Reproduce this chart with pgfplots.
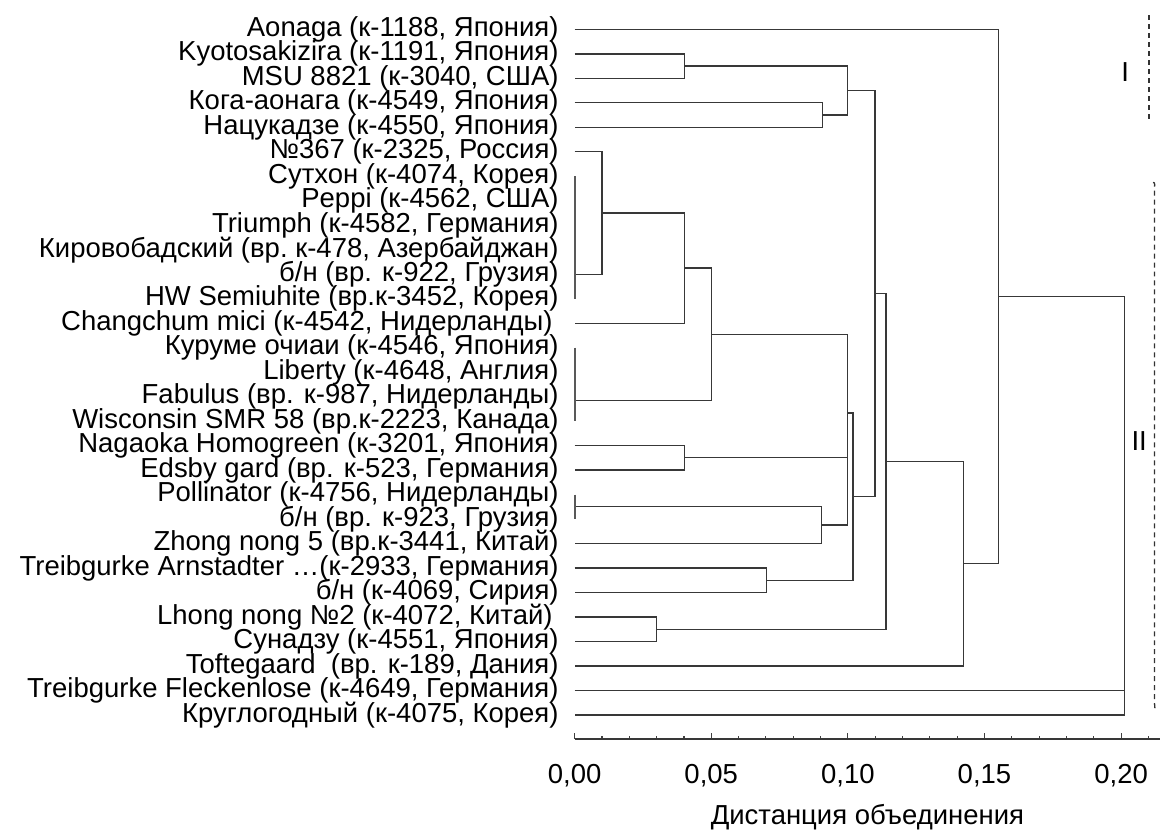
\documentclass[border=0pt]{standalone}
\usepackage{fontspec}
\setmainfont{Liberation Sans}
\usepackage{pgfplots}
\pgfplotsset{compat=1.18}
\newcommand{\lbl}{\fontsize{13.75}{16}\selectfont}
\pgfplotsset{link/.style={black!78, line width=0.65pt, mark=none, forget plot},
             zero/.style={black!65, line width=1pt, mark=none, forget plot}}

\begin{document}
\begin{tikzpicture}
\begin{axis}[
    scale only axis,
    width=293pt, height=369.5pt,
    xmin=0, xmax=0.2143,
    ymin=0.02, ymax=30.184,
    clip=false,
    axis x line*=bottom,
    axis y line*=left,
    x axis line style={black!75, line width=0.8pt},
    y axis line style={opacity=0},
    tick align=inside,
    major tick length=3pt, minor tick length=1.6pt,
    xtick={0,0.05,0.1,0.15,0.2},
    minor xtick={0.01,0.02,0.03,0.04,0.06,0.07,0.08,0.09,0.11,0.12,0.13,0.14,0.16,0.17,0.18,0.19,0.21},
    xtick style={black!75, line width=0.6pt},
    x tick label style={/pgf/number format/.cd, fixed, fixed zerofill, precision=2, use comma, assume math mode=true, /tikz/.cd, font=\lbl, yshift=-9pt},
    ytick={1,...,29},
    ytick style={draw=none},
    y tick label style={font=\lbl, xshift=-4.5pt},
    yticklabels={
        Круглогодный (к-4075{,} Корея),
        Treibgurke Fleckenlose (к-4649{,} Германия),
        Toftegaard\ \ (вр. к-189{,} Дания),
        Сунадзу (к-4551{,} Япония),
        Lhong nong №2 (к-4072{,} Китай)\hspace*{3pt},
        б/н (к-4069{,} Сирия),
        Treibgurke Arnstadter …(к-2933{,} Германия),
        Zhong nong 5 (вр.к-3441{,} Китай),
        б/н (вр. к-923{,} Грузия),
        Pollinator (к-4756{,} Нидерланды),
        Edsby gard (вр. к-523{,} Германия),
        Nagaoka Homogreen (к-3201{,} Япония),
        Wisconsin SMR 58 (вр.к-2223{,} Канада),
        Fabulus (вр. к-987{,} Нидерланды),
        Liberty (к-4648{,} Англия),
        Куруме очиаи (к-4546{,} Япония),
        Changchum mici (к-4542{,} Нидерланды)\hspace*{3pt},
        HW Semiuhite (вр.к-3452{,} Корея),
        б/н (вр. к-922{,} Грузия),
        Кировобадский\ (вр.\ к-478{,}\ Азербайджан),
        Triumph (к-4582{,} Германия),
        Peppi (к-4562{,} США),
        Сутхон (к-4074{,} Корея),
        №367 (к-2325{,} Россия),
        Нацукадзе (к-4550{,} Япония),
        Кога-аонага (к-4549{,} Япония),
        MSU 8821 (к-3040{,} США),
        Kyotosakizira (к-1191{,} Япония),
        Aonaga (к-1188{,} Япония)
    },
    xlabel={Дистанция объединения},
    xlabel style={font=\lbl, at={(axis description cs:0.5,0)}, anchor=north, yshift=-29pt},
]
% root
\addplot[link] coordinates {(0.1550,18.09) (0.2013,18.09) (0.2013,1) (0,1)};
\addplot[link] coordinates {(0,2) (0.2013,2)};
% group I + rest of II
\addplot[link] coordinates {(0,29) (0.1550,29) (0.1550,7.17) (0.1422,7.17)};
\addplot[link] coordinates {(0.1140,11.35) (0.1422,11.35) (0.1422,3) (0,3)};
\addplot[link] coordinates {(0.1099,18.21) (0.1140,18.21) (0.1140,4.5) (0.0301,4.5)};
\addplot[link] coordinates {(0,5) (0.0301,5) (0.0301,4) (0,4)};
\addplot[link] coordinates {(0.0999,26.5) (0.1099,26.5) (0.1099,9.92) (0.1019,9.92)};
\addplot[link] coordinates {(0.0402,27.5) (0.0999,27.5) (0.0999,25.5) (0.0906,25.5)};
\addplot[link] coordinates {(0,28) (0.0402,28) (0.0402,27) (0,27)};
\addplot[link] coordinates {(0,26) (0.0906,26) (0.0906,25) (0,25)};
\addplot[link] coordinates {(0.0999,13.33) (0.1019,13.33) (0.1019,6.5) (0.0703,6.5)};
\addplot[link] coordinates {(0,7) (0.0703,7) (0.0703,6) (0,6)};
\addplot[link] coordinates {(0.0502,16.54) (0.0999,16.54) (0.0999,8.75) (0.0903,8.75)};
\addplot[link] coordinates {(0.0402,11.5) (0.0999,11.5)};
\addplot[link] coordinates {(0,9.5) (0.0903,9.5) (0.0903,8) (0,8)};
\addplot[link] coordinates {(0,12) (0.0402,12) (0.0402,11) (0,11)};
\addplot[link] coordinates {(0.0402,19.25) (0.0502,19.25) (0.0502,13.83) (0,13.83)};
\addplot[link] coordinates {(0.0100,21.5) (0.0402,21.5) (0.0402,17) (0,17)};
\addplot[link] coordinates {(0,24) (0.0100,24) (0.0100,19) (0,19)};
% zero-distance groups
\addplot[zero] coordinates {(0,23) (0,18)};
\addplot[zero] coordinates {(0,16) (0,13)};
\addplot[zero] coordinates {(0,10) (0,9)};
% x axis line
\addplot[link, line width=0.8pt] coordinates {(0,0.02) (0.2143,0.02)};
% cluster marks
\draw[black!80, line width=0.65pt, dash pattern=on 2.5pt off 2pt] (axis cs:0.2102,29.57) -- (axis cs:0.2102,25.22);
\draw[black!80, line width=0.65pt, dash pattern=on 2.5pt off 2pt] (axis cs:0.2117,22.75) to[out=0,in=90] (axis cs:0.2122,22.5) -- (axis cs:0.2122,1.5) to[out=-90,in=0] (axis cs:0.2117,1.2);
\node[font=\lbl] at (axis cs:0.2015,27.26) {I};
\node[font=\lbl] at (axis cs:0.2066,12.2) {II};
\path (rel axis cs:0,0) ++(-287.5pt,-43pt);
\end{axis}
\end{tikzpicture}
\end{document}
